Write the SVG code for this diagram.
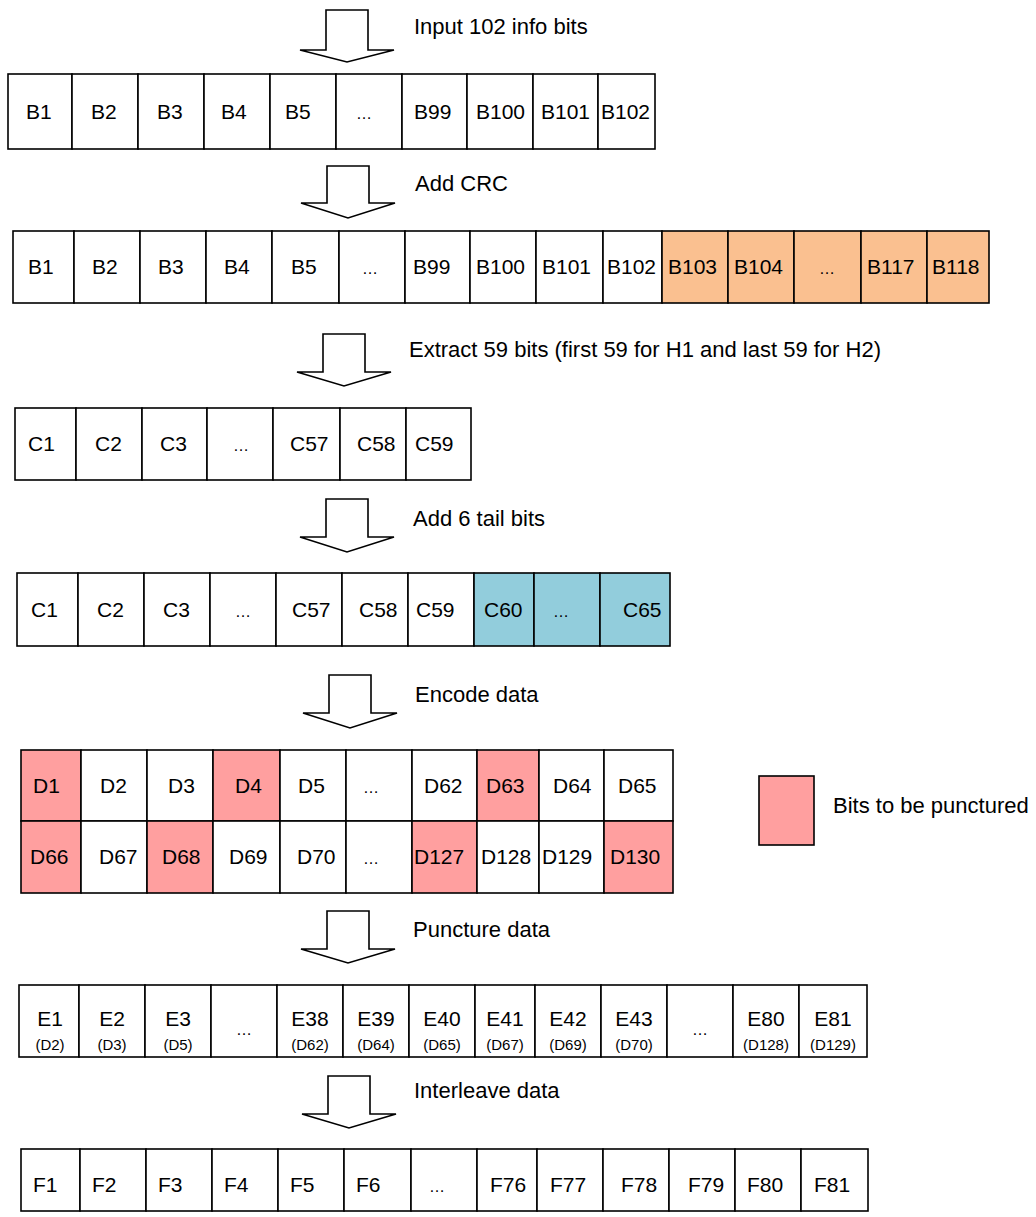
<svg xmlns="http://www.w3.org/2000/svg" width="1036" height="1217" viewBox="0 0 1036 1217">
<style>
text{font-family:"Liberation Sans",Arial,sans-serif;fill:#000}
.t{font-size:21px}
.m{font-size:21px;text-anchor:middle}
.el{font-size:16px;text-anchor:middle}
.s{font-size:15px;text-anchor:middle}
.lbl{font-size:22px}
rect{stroke:#000;stroke-width:1.6;fill:#fff}
.o{fill:#FAC090}
.b{fill:#92CDDC}
.p{fill:#FF9F9F}
.arr{fill:#fff;stroke:#000;stroke-width:1.6;stroke-linejoin:miter}
</style>
<rect width="1036" height="1217" style="fill:#fff;stroke:none"/>

<g id="connectors">
<path class="arr" d="M326,10 H368 V50 H394 L347,62 L300,50 H326 Z"/>
<path class="arr" d="M327,166 H369 V203 H395 L348,218 L301,203 H327 Z"/>
<path class="arr" d="M323,334 H365 V372 H391 L344,386 L297,372 H323 Z"/>
<path class="arr" d="M326,499 H368 V537 H394 L347,552 L300,537 H326 Z"/>
<path class="arr" d="M329,675 H371 V713 H397 L350,728 L303,713 H329 Z"/>
<path class="arr" d="M327,911 H369 V949 H395 L348,963 L301,949 H327 Z"/>
<path class="arr" d="M328,1076 H370 V1114 H396 L349,1128 L302,1114 H328 Z"/>
<text class="lbl" x="414" y="34">Input 102 info bits</text>
<text class="lbl" x="415" y="191">Add CRC</text>
<text class="lbl" x="409" y="357">Extract 59 bits (first 59 for H1 and last 59 for H2)</text>
<text class="lbl" x="413" y="526">Add 6 tail bits</text>
<text class="lbl" x="415" y="702">Encode data</text>
<text class="lbl" x="413" y="937">Puncture data</text>
<text class="lbl" x="414" y="1098">Interleave data</text>
</g>

<g id="row1">
<g id="r1c1"><rect x="8" y="74" width="64" height="75"/><text class="t" x="26" y="119">B1</text></g>
<g id="r1c2"><rect x="72" y="74" width="66" height="75"/><text class="t" x="91" y="119">B2</text></g>
<g id="r1c3"><rect x="138" y="74" width="66" height="75"/><text class="t" x="157" y="119">B3</text></g>
<g id="r1c4"><rect x="204" y="74" width="66" height="75"/><text class="t" x="221" y="119">B4</text></g>
<g id="r1c5"><rect x="270" y="74" width="66" height="75"/><text class="t" x="285" y="119">B5</text></g>
<g id="r1c6"><rect x="336" y="74" width="66" height="75"/><text class="el" x="364" y="119">…</text></g>
<g id="r1c7"><rect x="402" y="74" width="65" height="75"/><text class="t" x="414" y="119">B99</text></g>
<g id="r1c8"><rect x="467" y="74" width="66" height="75"/><text class="t" x="476" y="119">B100</text></g>
<g id="r1c9"><rect x="533" y="74" width="65" height="75"/><text class="t" x="541" y="119">B101</text></g>
<g id="r1c10"><rect x="598" y="74" width="57" height="75"/><text class="t" x="601" y="119">B102</text></g>
</g>

<g id="row2">
<g id="r2c1"><rect x="13" y="231" width="61" height="72"/><text class="t" x="28" y="274">B1</text></g>
<g id="r2c2"><rect x="74" y="231" width="66" height="72"/><text class="t" x="92" y="274">B2</text></g>
<g id="r2c3"><rect x="140" y="231" width="66" height="72"/><text class="t" x="158" y="274">B3</text></g>
<g id="r2c4"><rect x="206" y="231" width="66" height="72"/><text class="t" x="224" y="274">B4</text></g>
<g id="r2c5"><rect x="272" y="231" width="67" height="72"/><text class="t" x="291" y="274">B5</text></g>
<g id="r2c6"><rect x="339" y="231" width="66" height="72"/><text class="el" x="370" y="274">…</text></g>
<g id="r2c7"><rect x="405" y="231" width="65" height="72"/><text class="t" x="413" y="274">B99</text></g>
<g id="r2c8"><rect x="470" y="231" width="66" height="72"/><text class="t" x="476" y="274">B100</text></g>
<g id="r2c9"><rect x="536" y="231" width="67" height="72"/><text class="t" x="542" y="274">B101</text></g>
<g id="r2c10"><rect x="603" y="231" width="59" height="72"/><text class="t" x="607" y="274">B102</text></g>
<g id="r2c11"><rect class="o" x="662" y="231" width="66" height="72"/><text class="t" x="668" y="274">B103</text></g>
<g id="r2c12"><rect class="o" x="728" y="231" width="66" height="72"/><text class="t" x="734" y="274">B104</text></g>
<g id="r2c13"><rect class="o" x="794" y="231" width="67" height="72"/><text class="el" x="827" y="274">…</text></g>
<g id="r2c14"><rect class="o" x="861" y="231" width="66" height="72"/><text class="t" x="867" y="274">B117</text></g>
<g id="r2c15"><rect class="o" x="927" y="231" width="62" height="72"/><text class="t" x="932" y="274">B118</text></g>
</g>

<g id="row3">
<g id="r3c1"><rect x="15" y="408" width="61" height="72"/><text class="t" x="28" y="451">C1</text></g>
<g id="r3c2"><rect x="76" y="408" width="66" height="72"/><text class="t" x="95" y="451">C2</text></g>
<g id="r3c3"><rect x="142" y="408" width="65" height="72"/><text class="t" x="160" y="451">C3</text></g>
<g id="r3c4"><rect x="207" y="408" width="66" height="72"/><text class="el" x="241" y="451">…</text></g>
<g id="r3c5"><rect x="273" y="408" width="67" height="72"/><text class="t" x="290" y="451">C57</text></g>
<g id="r3c6"><rect x="340" y="408" width="66" height="72"/><text class="t" x="357" y="451">C58</text></g>
<g id="r3c7"><rect x="406" y="408" width="65" height="72"/><text class="t" x="415" y="451">C59</text></g>
</g>

<g id="row4">
<g id="r4c1"><rect x="17" y="573" width="61" height="73"/><text class="t" x="31" y="617">C1</text></g>
<g id="r4c2"><rect x="78" y="573" width="66" height="73"/><text class="t" x="97" y="617">C2</text></g>
<g id="r4c3"><rect x="144" y="573" width="66" height="73"/><text class="t" x="163" y="617">C3</text></g>
<g id="r4c4"><rect x="210" y="573" width="66" height="73"/><text class="el" x="243" y="617">…</text></g>
<g id="r4c5"><rect x="276" y="573" width="66" height="73"/><text class="t" x="292" y="617">C57</text></g>
<g id="r4c6"><rect x="342" y="573" width="66" height="73"/><text class="t" x="359" y="617">C58</text></g>
<g id="r4c7"><rect x="408" y="573" width="66" height="73"/><text class="t" x="416" y="617">C59</text></g>
<g id="r4c8"><rect class="b" x="474" y="573" width="60" height="73"/><text class="t" x="484" y="617">C60</text></g>
<g id="r4c9"><rect class="b" x="534" y="573" width="66" height="73"/><text class="el" x="561" y="617">…</text></g>
<g id="r4c10"><rect class="b" x="600" y="573" width="70" height="73"/><text class="t" x="623" y="617">C65</text></g>
</g>

<g id="row5">
<g id="r5c1"><rect class="p" x="21" y="750" width="60" height="71"/><text class="t" x="33" y="793">D1</text></g>
<g id="r5c2"><rect x="81" y="750" width="66" height="71"/><text class="t" x="100" y="793">D2</text></g>
<g id="r5c3"><rect x="147" y="750" width="66" height="71"/><text class="t" x="168" y="793">D3</text></g>
<g id="r5c4"><rect class="p" x="213" y="750" width="67" height="71"/><text class="t" x="235" y="793">D4</text></g>
<g id="r5c5"><rect x="280" y="750" width="66" height="71"/><text class="t" x="298" y="793">D5</text></g>
<g id="r5c6"><rect x="346" y="750" width="66" height="71"/><text class="el" x="371" y="793">…</text></g>
<g id="r5c7"><rect x="412" y="750" width="65" height="71"/><text class="t" x="424" y="793">D62</text></g>
<g id="r5c8"><rect class="p" x="477" y="750" width="62" height="71"/><text class="t" x="486" y="793">D63</text></g>
<g id="r5c9"><rect x="539" y="750" width="65" height="71"/><text class="t" x="553" y="793">D64</text></g>
<g id="r5c10"><rect x="604" y="750" width="69" height="71"/><text class="t" x="618" y="793">D65</text></g>
<g id="r5c11"><rect class="p" x="21" y="821" width="60" height="72"/><text class="t" x="30" y="864">D66</text></g>
<g id="r5c12"><rect x="81" y="821" width="66" height="72"/><text class="t" x="99" y="864">D67</text></g>
<g id="r5c13"><rect class="p" x="147" y="821" width="66" height="72"/><text class="t" x="162" y="864">D68</text></g>
<g id="r5c14"><rect x="213" y="821" width="67" height="72"/><text class="t" x="229" y="864">D69</text></g>
<g id="r5c15"><rect x="280" y="821" width="66" height="72"/><text class="t" x="297" y="864">D70</text></g>
<g id="r5c16"><rect x="346" y="821" width="66" height="72"/><text class="el" x="371" y="864">…</text></g>
<g id="r5c17"><rect class="p" x="412" y="821" width="65" height="72"/><text class="t" x="414" y="864">D127</text></g>
<g id="r5c18"><rect x="477" y="821" width="62" height="72"/><text class="t" x="481" y="864">D128</text></g>
<g id="r5c19"><rect x="539" y="821" width="65" height="72"/><text class="t" x="542" y="864">D129</text></g>
<g id="r5c20"><rect class="p" x="604" y="821" width="69" height="72"/><text class="t" x="610" y="864">D130</text></g>
</g>

<g id="legend">
<rect class="p" x="759" y="776" width="55" height="69"/>
<text class="lbl" x="833" y="813">Bits to be punctured</text>
</g>

<g id="row6">
<g id="r6c1"><rect x="19" y="985" width="60" height="72"/><text class="m" x="50" y="1026">E1</text><text class="s" x="50" y="1050">(D2)</text></g>
<g id="r6c2"><rect x="79" y="985" width="66" height="72"/><text class="m" x="112" y="1026">E2</text><text class="s" x="112" y="1050">(D3)</text></g>
<g id="r6c3"><rect x="145" y="985" width="66" height="72"/><text class="m" x="178" y="1026">E3</text><text class="s" x="178" y="1050">(D5)</text></g>
<g id="r6c4"><rect x="211" y="985" width="66" height="72"/><text class="el" x="244" y="1035">…</text></g>
<g id="r6c5"><rect x="277" y="985" width="66" height="72"/><text class="m" x="310" y="1026">E38</text><text class="s" x="310" y="1050">(D62)</text></g>
<g id="r6c6"><rect x="343" y="985" width="66" height="72"/><text class="m" x="376" y="1026">E39</text><text class="s" x="376" y="1050">(D64)</text></g>
<g id="r6c7"><rect x="409" y="985" width="66" height="72"/><text class="m" x="442" y="1026">E40</text><text class="s" x="442" y="1050">(D65)</text></g>
<g id="r6c8"><rect x="475" y="985" width="60" height="72"/><text class="m" x="505" y="1026">E41</text><text class="s" x="505" y="1050">(D67)</text></g>
<g id="r6c9"><rect x="535" y="985" width="66" height="72"/><text class="m" x="568" y="1026">E42</text><text class="s" x="568" y="1050">(D69)</text></g>
<g id="r6c10"><rect x="601" y="985" width="66" height="72"/><text class="m" x="634" y="1026">E43</text><text class="s" x="634" y="1050">(D70)</text></g>
<g id="r6c11"><rect x="667" y="985" width="66" height="72"/><text class="el" x="700" y="1035">…</text></g>
<g id="r6c12"><rect x="733" y="985" width="66" height="72"/><text class="m" x="766" y="1026">E80</text><text class="s" x="766" y="1050">(D128)</text></g>
<g id="r6c13"><rect x="799" y="985" width="68" height="72"/><text class="m" x="833" y="1026">E81</text><text class="s" x="833" y="1050">(D129)</text></g>
</g>

<g id="row7">
<g id="r7c1"><rect x="21" y="1149" width="59" height="62"/><text class="t" x="33" y="1192">F1</text></g>
<g id="r7c2"><rect x="80" y="1149" width="66" height="62"/><text class="t" x="92" y="1192">F2</text></g>
<g id="r7c3"><rect x="146" y="1149" width="66" height="62"/><text class="t" x="158" y="1192">F3</text></g>
<g id="r7c4"><rect x="212" y="1149" width="66" height="62"/><text class="t" x="224" y="1192">F4</text></g>
<g id="r7c5"><rect x="278" y="1149" width="66" height="62"/><text class="t" x="290" y="1192">F5</text></g>
<g id="r7c6"><rect x="344" y="1149" width="67" height="62"/><text class="t" x="356" y="1192">F6</text></g>
<g id="r7c7"><rect x="411" y="1149" width="66" height="62"/><text class="el" x="437" y="1192">…</text></g>
<g id="r7c8"><rect x="477" y="1149" width="60" height="62"/><text class="t" x="490" y="1192">F76</text></g>
<g id="r7c9"><rect x="537" y="1149" width="66" height="62"/><text class="t" x="550" y="1192">F77</text></g>
<g id="r7c10"><rect x="603" y="1149" width="66" height="62"/><text class="t" x="621" y="1192">F78</text></g>
<g id="r7c11"><rect x="669" y="1149" width="66" height="62"/><text class="t" x="688" y="1192">F79</text></g>
<g id="r7c12"><rect x="735" y="1149" width="66" height="62"/><text class="t" x="747" y="1192">F80</text></g>
<g id="r7c13"><rect x="801" y="1149" width="67" height="62"/><text class="t" x="814" y="1192">F81</text></g>
</g>
</svg>
